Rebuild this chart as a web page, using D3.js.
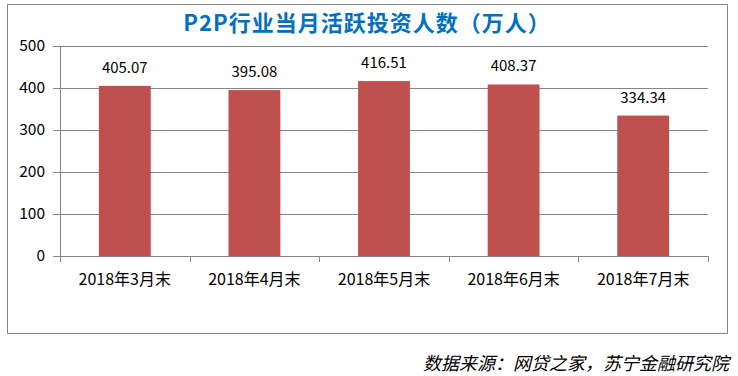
<!DOCTYPE html>
<html>
<head>
<meta charset="utf-8">
<script src="https://cdn.jsdelivr.net/npm/d3@7"></script>
<style>
  body { margin: 0; background: #fff; }
  text { font-family: "Noto Sans CJK SC", "Liberation Sans", sans-serif; }
</style>
</head>
<body>
<svg id="chart"></svg>
<script>
const categories = ["2018年3月末", "2018年4月末", "2018年5月末", "2018年6月末", "2018年7月末"];
const values = [405.07, 395.08, 416.51, 408.37, 334.34];
const yTicks = [0, 100, 200, 300, 400, 500];

function createChart() {
    let w = 738, h = 376;
    let margin = {left: 60, right: 30, top: 46, bottom: 120};

    let svg = d3.select("#chart")
        .attr("width", w)
        .attr("height", h);

    // outer frame
    svg.append("rect")
        .attr("x", 7.5).attr("y", 4.5)
        .attr("width", 720).attr("height", 329)
        .attr("fill", "#fff")
        .attr("stroke", "#868686");

    svg.append("text")
        .attr("x", 367).attr("y", 31)
        .attr("text-anchor", "middle")
        .attr("font-size", 22)
        .attr("letter-spacing", 1)
        .attr("font-weight", "bold")
        .attr("fill", "#0070C0")
        .text("P2P行业当月活跃投资人数（万人）");

    let x = d3.scaleBand()
        .domain(categories)
        .range([margin.left, w - margin.right])
        .paddingInner(0.6)
        .paddingOuter(0.3);

    let y = d3.scaleLinear()
        .domain([0, 500])
        .range([h - margin.bottom, margin.top]);

    // grid
    svg.append("g")
        .selectAll("line")
        .data(yTicks)
        .enter().append("line")
        .attr("x1", margin.left - 7)
        .attr("x2", w - margin.right)
        .attr("y1", d => Math.round(y(d)) + 0.5)
        .attr("y2", d => Math.round(y(d)) + 0.5)
        .attr("stroke", "#868686");

    svg.append("g")
        .selectAll("text")
        .data(yTicks)
        .enter().append("text")
        .attr("x", margin.left - 15)
        .attr("y", d => y(d))
        .attr("dy", "0.35em")
        .attr("text-anchor", "end")
        .attr("font-size", 15.5)
        .attr("fill", "#000")
        .text(d => d);

    // y axis line
    svg.append("line")
        .attr("x1", margin.left + 0.5).attr("x2", margin.left + 0.5)
        .attr("y1", y(500)).attr("y2", y(0) + 6)
        .attr("stroke", "#868686");

    // category boundary ticks
    let bounds = d3.range(categories.length + 1).map(i => margin.left + i * (w - margin.left - margin.right) / categories.length);
    svg.append("g")
        .selectAll("line")
        .data(bounds)
        .enter().append("line")
        .attr("x1", d => Math.round(d) + 0.5)
        .attr("x2", d => Math.round(d) + 0.5)
        .attr("y1", y(0))
        .attr("y2", y(0) + 6)
        .attr("stroke", "#868686");

    svg.append("g")
        .selectAll("rect")
        .data(values)
        .enter().append("rect")
        .attr("x", (d, i) => x(categories[i]))
        .attr("width", x.bandwidth())
        .attr("y", d => y(d))
        .attr("height", d => y(0) - y(d))
        .attr("fill", "#C0504D");

    svg.append("g")
        .selectAll("text")
        .data(values)
        .enter().append("text")
        .attr("x", (d, i) => x(categories[i]) + x.bandwidth() / 2)
        .attr("y", d => y(d) - 13)
        .attr("text-anchor", "middle")
        .attr("font-size", 15)
        .attr("fill", "#000")
        .text(d => d.toFixed(2));

    svg.append("g")
        .selectAll("text")
        .data(categories)
        .enter().append("text")
        .attr("x", d => x(d) + x.bandwidth() / 2)
        .attr("y", y(0) + 29)
        .attr("text-anchor", "middle")
        .attr("font-size", 16)
        .attr("fill", "#000")
        .text(d => d);

    svg.append("text")
        .attr("x", 729).attr("y", 370)
        .attr("text-anchor", "end")
        .attr("font-size", 18)
        .attr("font-style", "italic")
        .attr("fill", "#000")
        .text("数据来源：网贷之家，苏宁金融研究院");
}

window.onload = function() {
    createChart();
};
</script>
</body>
</html>
